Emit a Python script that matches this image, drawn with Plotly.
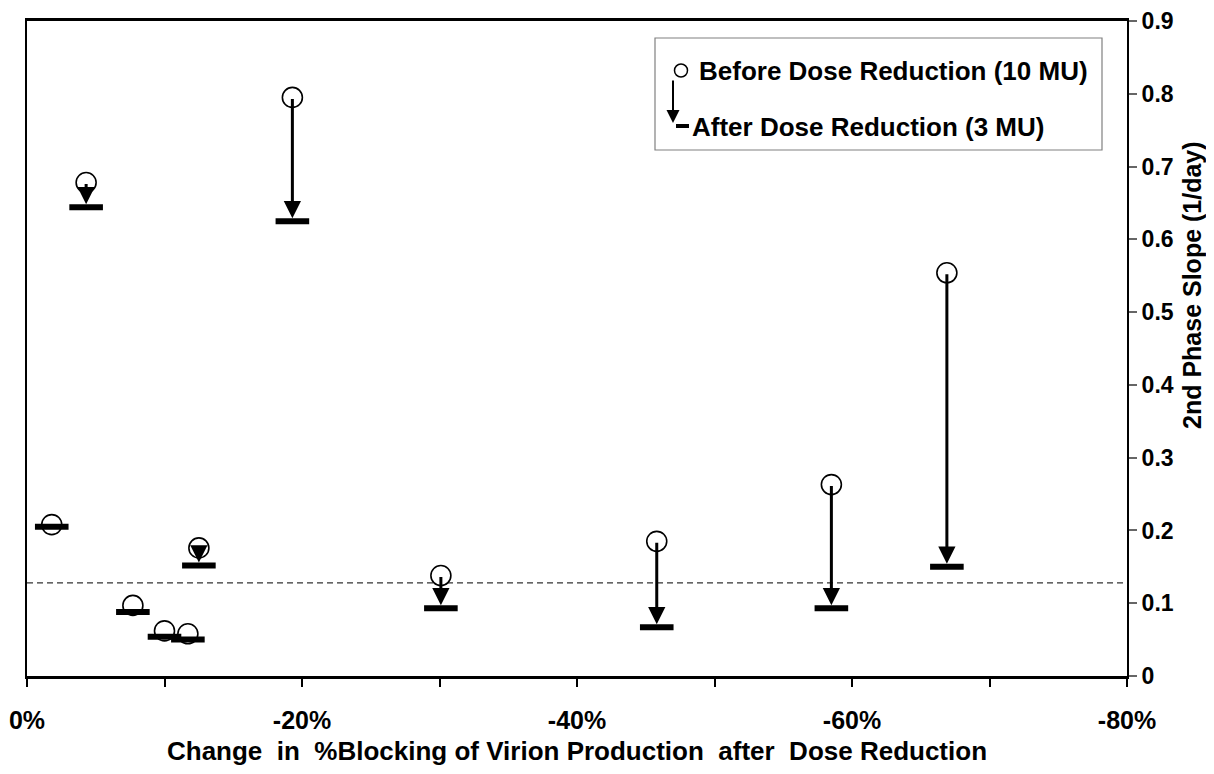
import plotly.graph_objects as go

# ---- data ----
change_pct = [-1.8, -4.3, -7.7, -10.0, -11.7, -12.5, -19.3, -30.1, -45.8, -58.5, -66.9]
slope_before = [0.208, 0.678, 0.097, 0.062, 0.058, 0.176, 0.795, 0.138, 0.185, 0.263, 0.554]
slope_after = [0.205, 0.644, 0.088, 0.054, 0.050, 0.152, 0.625, 0.093, 0.067, 0.093, 0.150]
reference_slope = 0.128
x_tickvals = [0, -20, -40, -60, -80]
x_ticktext = ["0%", "-20%", "-40%", "-60%", "-80%"]
y_tickvals = [0, 0.1, 0.2, 0.3, 0.4, 0.5, 0.6, 0.7, 0.8, 0.9]
y_ticktext = ["0", "0.1", "0.2", "0.3", "0.4", "0.5", "0.6", "0.7", "0.8", "0.9"]

FONT = "Liberation Sans, Arial, sans-serif"
OFF = 8  # page body margin in the browser
SW, SH = 1214, 774
W, H = SW - OFF, SH - OFF
# plot area in screen pixels
PX0, PX1, PY0, PY1 = 27, 1127, 21, 676
L, R, T, B = PX0 - OFF, W - (PX1 - OFF), PY0 - OFF, H - (PY1 - OFF)
PW, PH = PX1 - PX0, PY1 - PY0

def px2paper(sx, sy):
    return (sx - PX0) / PW, (PY1 - sy) / PH

fig = go.Figure()

fig.add_trace(go.Scatter(
    x=change_pct, y=slope_before, mode="markers", name="Before Dose Reduction (10 MU)",
    marker=dict(symbol="circle", size=20, color="white", line=dict(color="black", width=1.6)),
    showlegend=False))
fig.add_trace(go.Scatter(
    x=change_pct, y=slope_after, mode="markers", name="After Dose Reduction (3 MU)",
    marker=dict(symbol="line-ew", size=24, color="black", line=dict(color="black", width=6)),
    showlegend=False))

annotations = []
for xv, b, a in zip(change_pct, slope_before, slope_after):
    if b - a >= 0.02:
        annotations.append(dict(
            x=xv, y=a, ax=xv, ay=b, xref="x", yref="y", axref="x", ayref="y",
            text="", showarrow=True, arrowhead=2, arrowsize=1.15, arrowwidth=3,
            arrowcolor="black", standoff=3))

# reference dashed line
shapes = [dict(type="line", xref="paper", x0=0, x1=1, yref="y", y0=reference_slope, y1=reference_slope,
               line=dict(color="#333", width=1.2, dash="6px,4px"), layer="below")]

# manual legend
bx0, by0 = px2paper(655, 150)
bx1, by1 = px2paper(1102, 38)
shapes.append(dict(type="rect", xref="paper", yref="paper", x0=bx0, y0=by0, x1=bx1, y1=by1,
                   line=dict(color="#808080", width=1.2), fillcolor="white"))
cx0, cy0 = px2paper(674.5, 77)
cx1, cy1 = px2paper(687.5, 64)
shapes.append(dict(type="circle", xref="paper", yref="paper", x0=cx0, y0=cy0, x1=cx1, y1=cy1,
                   line=dict(color="black", width=1.5), fillcolor="white"))
dx0, dy = px2paper(676, 126)
dx1, _ = px2paper(689, 126)
shapes.append(dict(type="line", xref="paper", yref="paper", x0=dx0, y0=dy, x1=dx1, y1=dy,
                   line=dict(color="black", width=4)))
ax_, ay_ = px2paper(673, 123)
annotations.append(dict(x=ax_, y=ay_, xref="paper", yref="paper", ax=0, ay=-44, text="",
                        showarrow=True, arrowhead=2, arrowsize=1.3, arrowwidth=2, arrowcolor="black"))
tx, ty = px2paper(697, 71)
annotations.append(dict(x=tx, y=ty, xref="paper", yref="paper", text="<b>Before Dose Reduction (10 MU)</b>",
                        showarrow=False, xanchor="left", yanchor="middle",
                        font=dict(family=FONT, size=26, color="black")))
tx, ty = px2paper(690, 127)
annotations.append(dict(x=tx, y=ty, xref="paper", yref="paper", text="<b>After Dose Reduction (3 MU)</b>",
                        showarrow=False, xanchor="left", yanchor="middle",
                        font=dict(family=FONT, size=26, color="black")))
# y-axis title (sits above the axis centre in the reference)
tx, ty = px2paper(1192, 285)
annotations.append(dict(x=tx, y=ty, xref="paper", yref="paper", text="<b>2nd Phase Slope (1/day)</b>",
                        showarrow=False, xanchor="center", yanchor="middle", textangle=-90,
                        font=dict(family=FONT, size=25, color="black")))

fig.update_layout(
    width=W, height=H, margin=dict(l=L, r=R, t=T, b=B, pad=0),
    paper_bgcolor="white", plot_bgcolor="white",
    font=dict(family=FONT, color="black"),
    shapes=shapes, annotations=annotations, showlegend=False,
    xaxis=dict(range=[0, -80], tickvals=x_tickvals, ticktext=x_ticktext,
               ticks="outside", ticklen=8, tickwidth=1.5, tickcolor="black",
               minor=dict(dtick=10, tick0=0, ticks="outside", ticklen=8, tickwidth=1.5, tickcolor="black"),
               showgrid=False, zeroline=False, showline=True, linecolor="black", linewidth=2.5,
               mirror=True, ticklabelstandoff=12, automargin=False, ticklabeloverflow="allow",
               tickfont=dict(family=FONT, size=25, color="black", weight="bold"),
               title=dict(text="<b>Change\u00a0 in\u00a0 %Blocking of Virion Production\u00a0 after\u00a0 Dose Reduction</b>",
                          font=dict(family=FONT, size=26, color="black"), standoff=10)),
    yaxis=dict(range=[0, 0.9], side="right", tickvals=y_tickvals, ticktext=y_ticktext,
               ticks="outside", ticklen=8, tickwidth=1.5, tickcolor="#666",
               showgrid=False, zeroline=False, showline=True, linecolor="black", linewidth=2,
               mirror=True, automargin=False, ticklabeloverflow="allow",
               tickfont=dict(family=FONT, size=23, color="black", weight="bold")),
)

fig.write_html("out.html")
